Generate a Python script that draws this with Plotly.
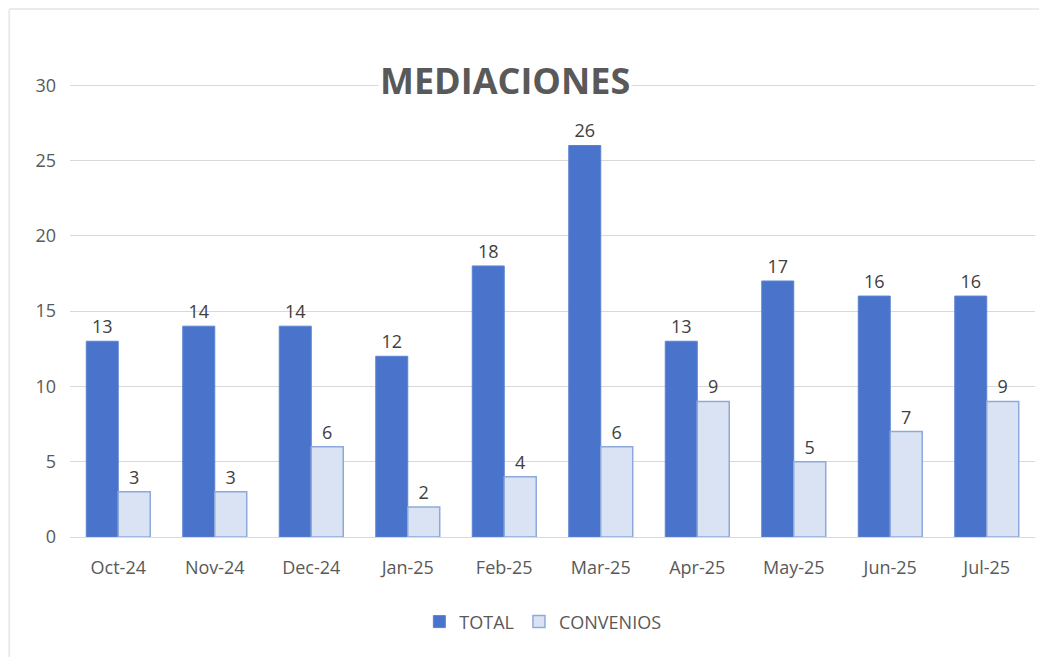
import plotly.graph_objects as go

months = ["Oct-24", "Nov-24", "Dec-24", "Jan-25", "Feb-25", "Mar-25", "Apr-25", "May-25", "Jun-25", "Jul-25"]
total = [13, 14, 14, 12, 18, 26, 13, 17, 16, 16]
convenios = [3, 3, 6, 2, 4, 6, 9, 5, 7, 9]
y_ticks = [0, 5, 10, 15, 20, 25, 30]

FONT = "Open Sans"
GRAY = "#595959"

fig = go.Figure()
fig.add_trace(go.Bar(
    x=months, y=total, name="TOTAL",
    marker=dict(color="#4a74cc", line=dict(color="#5b82d2", width=1)),
    text=total, textposition="outside", cliponaxis=False,
    textfont=dict(family=FONT, size=18, color="#404040"),
))
fig.add_trace(go.Bar(
    x=months, y=convenios, name="CONVENIOS",
    marker=dict(color="#dae3f3", line=dict(color="#8eaadc", width=1.5)),
    text=convenios, textposition="outside", cliponaxis=False,
    textfont=dict(family=FONT, size=18, color="#404040"),
))

fig.update_layout(
    width=1047, height=657,
    paper_bgcolor="white", plot_bgcolor="white",
    margin=dict(l=62, r=20, t=75, b=128),
    barmode="group", bargap=0.337, bargroupgap=0,
    font=dict(family=FONT, size=18, color=GRAY),
    showlegend=True,
    legend=dict(orientation="h", x=0.49, xanchor="center", y=-0.187, yanchor="middle",
                font=dict(family=FONT, size=18, color=GRAY), itemwidth=30),
    xaxis=dict(showgrid=False, showline=False, ticks="", ticklabelstandoff=18,
               tickfont=dict(size=18, color=GRAY)),
    yaxis=dict(range=[0, 30.15], tickvals=y_ticks, showgrid=True, gridcolor="#d9d9d9", gridwidth=1,
               zeroline=True, zerolinecolor="#d9d9d9", zerolinewidth=1,
               ticks="", tickfont=dict(size=18, color=GRAY), ticklabelstandoff=13),
    shapes=[
        dict(type="line", xref="paper", yref="paper", x0=-0.063, x1=1.02, y0=1.163, y1=1.163,
             line=dict(color="#ebebeb", width=2)),
        dict(type="line", xref="paper", yref="paper", x0=-0.063, x1=-0.063, y0=1.163, y1=-0.27,
             line=dict(color="#ebebeb", width=2)),
    ],
    annotations=[dict(
        text="<b>MEDIACIONES</b>", xref="paper", yref="paper", x=0.451, y=1.006,
        xanchor="center", yanchor="middle", showarrow=False, bgcolor="white",
        font=dict(family=FONT, size=36, color=GRAY),
    )],
)

fig.write_html("out.html")
